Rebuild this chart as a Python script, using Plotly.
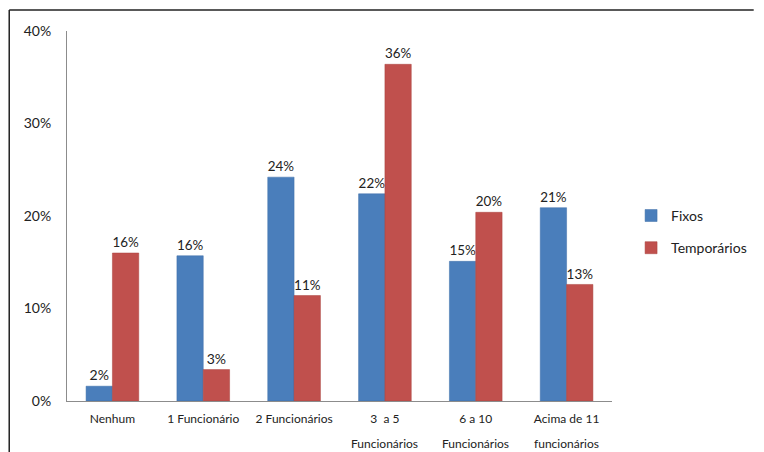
import plotly.graph_objects as go

categories = [
    "Nenhum",
    "1 Funcionário",
    "2 Funcionários",
    "3  a 5 Funcionários",
    "6 a 10 Funcionários",
    "Acima de 11 funcionários",
]
label_line1 = ["Nenhum", "1 Funcionário", "2 Funcionários", "3  a 5", "6 a 10", "Acima de 11"]
label_line2 = ["", "", "", "Funcionários", "Funcionários", "funcionários"]
fixos = [1.6, 15.7, 24.2, 22.4, 15.1, 20.9]
temporarios = [16.0, 3.4, 11.4, 36.4, 20.4, 12.6]
y_ticks = [0, 10, 20, 30, 40]
y_tick_text = ["0%", "10%", "20%", "30%", "40%"]

FONT = "Lato, 'Open Sans', sans-serif"
TEXT = "#222222"

fig = go.Figure()
fig.add_trace(go.Bar(
    x=categories, y=fixos, name="Fixos", legendgroup="fixos",
    marker=dict(color="#4A7EBB", line=dict(color="#3F6FA8", width=0.5)),
    texttemplate="%{y:.0f}%", textposition="outside",
    textfont=dict(size=14, color=TEXT, family=FONT),
    cliponaxis=False,
))
fig.add_trace(go.Bar(
    x=categories, y=temporarios, name="Temporários", legendgroup="temp",
    marker=dict(color="#C0504D", line=dict(color="#A9403D", width=0.5)),
    texttemplate="%{y:.0f}%", textposition="outside",
    textfont=dict(size=14, color=TEXT, family=FONT),
    cliponaxis=False,
))

# second line of the longer category names, placed under the tick labels
for cat, line2 in zip(categories, label_line2):
    if line2:
        fig.add_annotation(
            x=cat, xref="x", y=0, yref="paper", yanchor="middle",
            yshift=-42, text=line2, showarrow=False,
            font=dict(size=12, color=TEXT, family=FONT),
        )

# frame around the picture (left and top edges only, as in the scan)
fig.add_shape(type="line", xref="paper", yref="paper",
              x0=-0.106, x1=-0.106, y0=-0.2, y1=1.057,
              line=dict(color=TEXT, width=1.5))
fig.add_shape(type="line", xref="paper", yref="paper",
              x0=-0.106, x1=1.26, y0=1.057, y1=1.057,
              line=dict(color=TEXT, width=1.5))

# page body has an 8px margin, so the figure is drawn 8px smaller
fig.update_layout(
    width=756, height=444,
    margin=dict(l=59, r=139, t=23, b=51),
    paper_bgcolor="white", plot_bgcolor="white",
    barmode="group", bargap=0.42, bargroupgap=0,
    font=dict(family=FONT, color=TEXT),
    legend=dict(
        x=1.035, y=0.457, xanchor="left", yanchor="middle",
        font=dict(size=14, color=TEXT),
        itemwidth=30, tracegroupgap=11,
    ),
)
fig.update_xaxes(
    showline=True, linecolor="#8c8c8c", linewidth=1,
    showgrid=False, ticks="", tickangle=0,
    tickmode="array", tickvals=categories, ticktext=label_line1,
    tickfont=dict(size=12, color=TEXT), ticklabelstandoff=7,
)
fig.update_yaxes(
    range=[0, 40], tickvals=y_ticks, ticktext=y_tick_text,
    showline=True, linecolor="#8c8c8c", linewidth=1,
    showgrid=False, zeroline=False, ticks="",
    tickfont=dict(size=14, color=TEXT), ticklabelstandoff=12,
)

fig.write_html("out.html")
